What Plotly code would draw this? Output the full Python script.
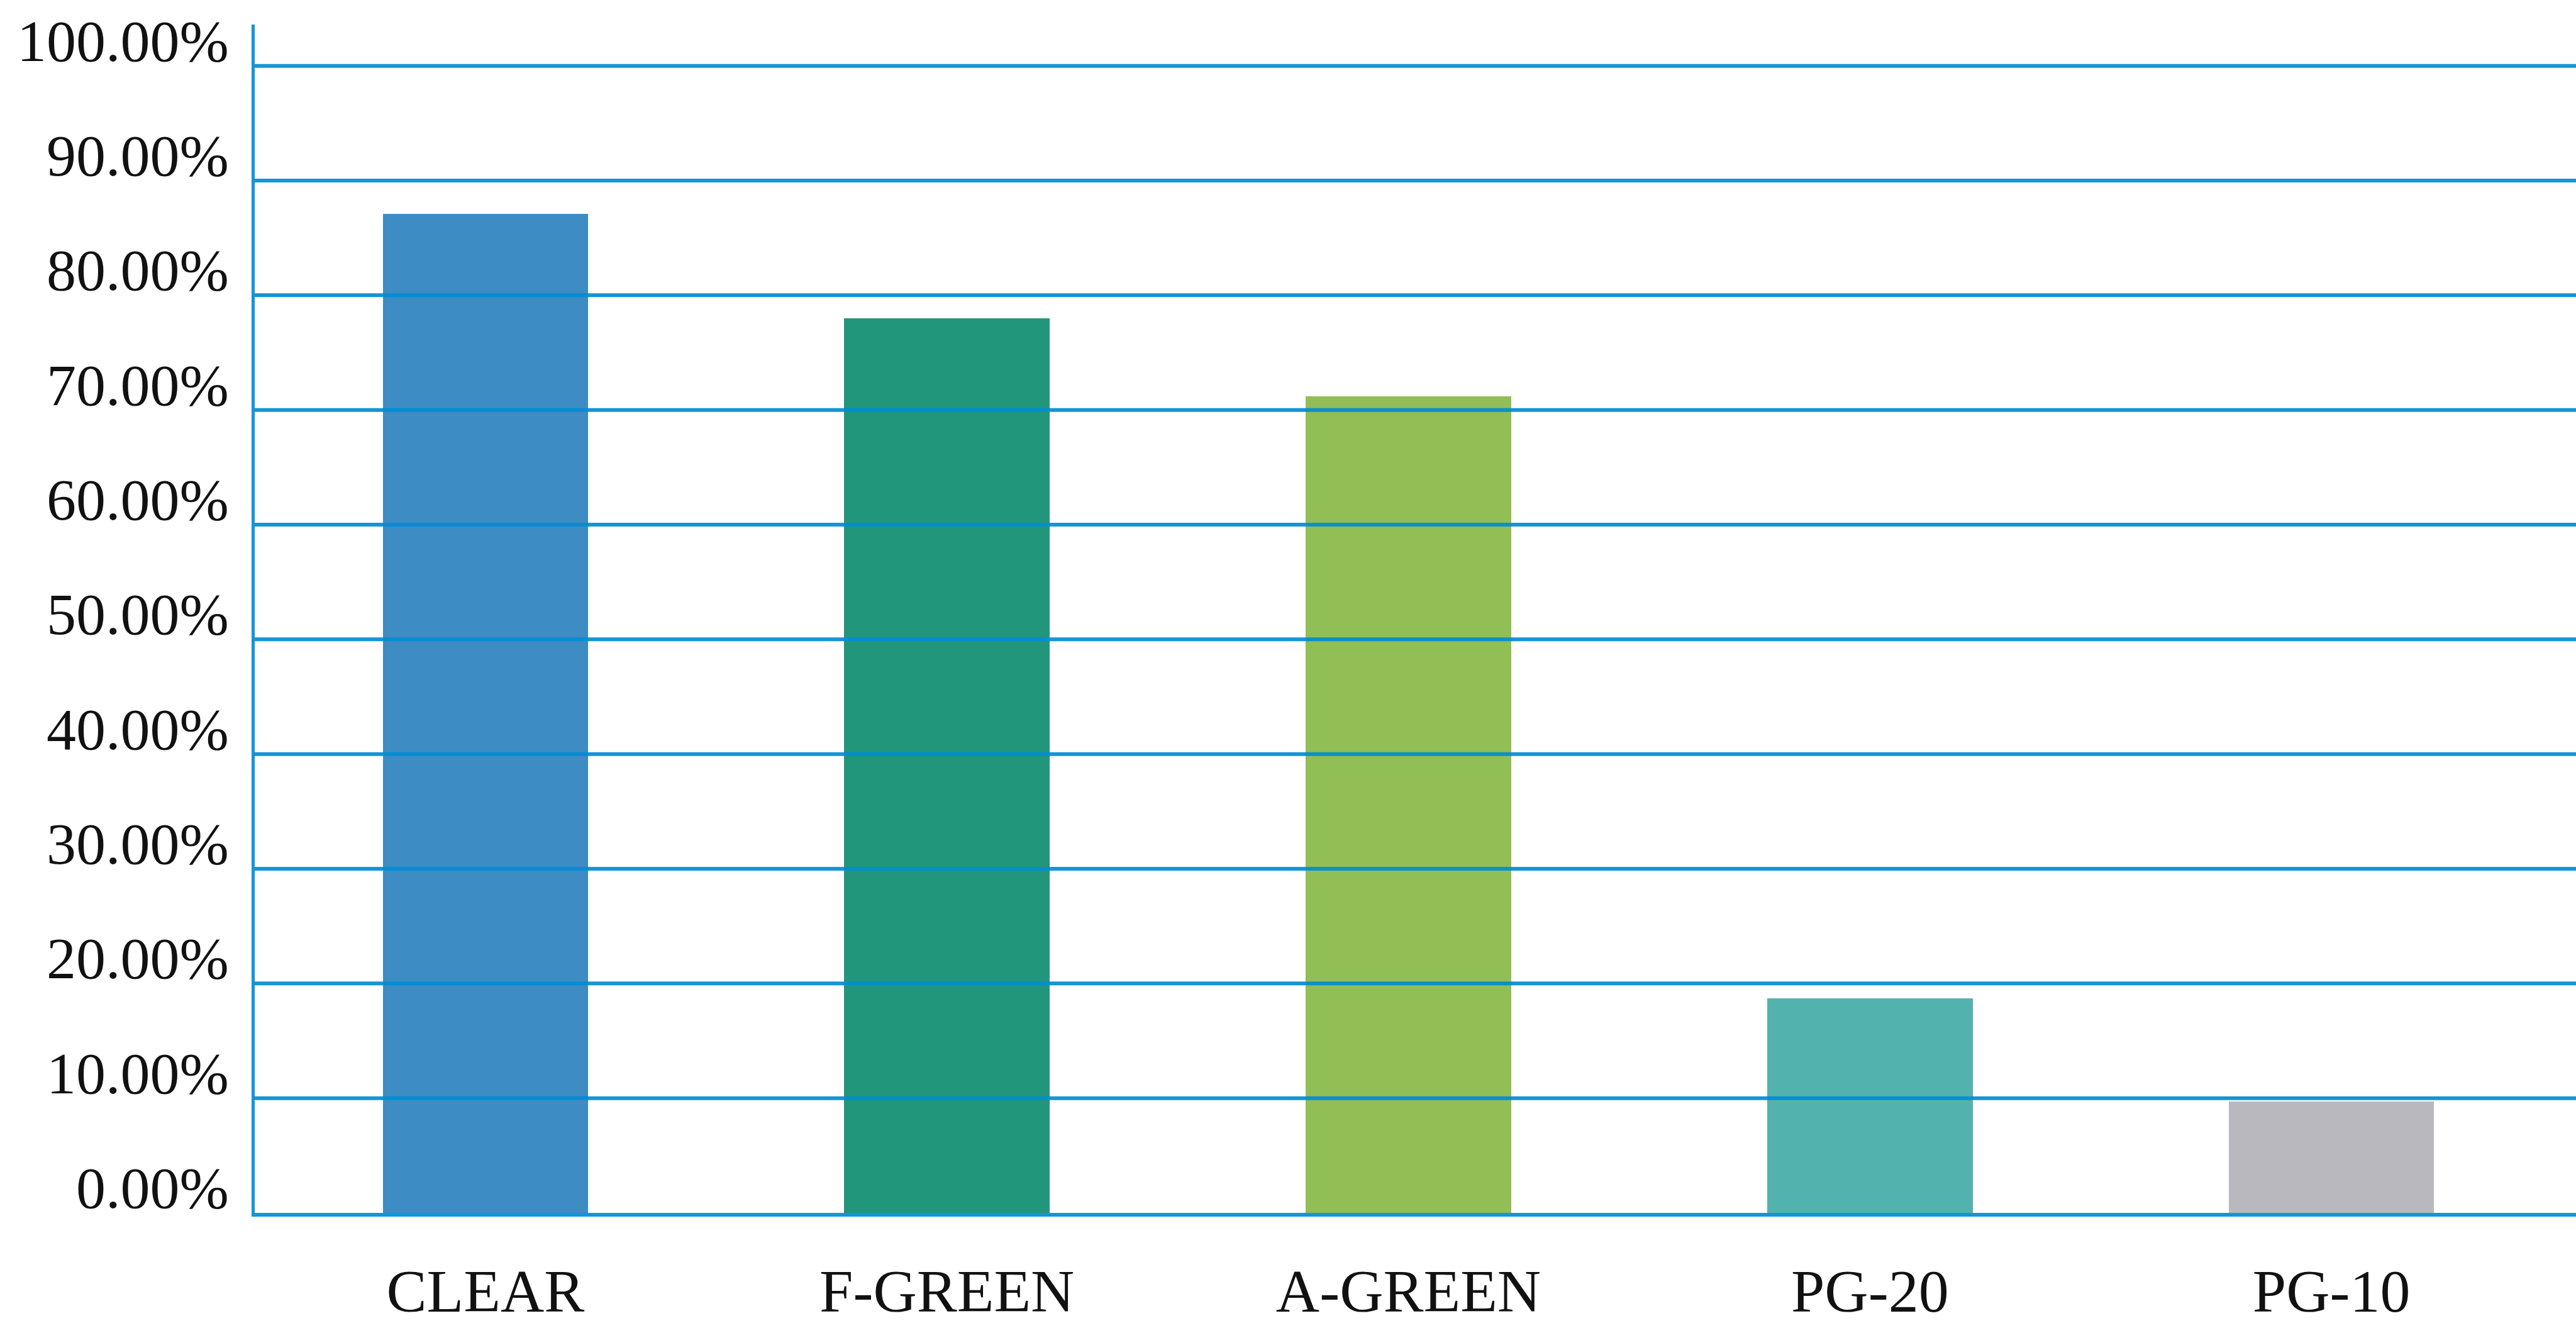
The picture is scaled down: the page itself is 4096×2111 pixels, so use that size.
import plotly.graph_objects as go

# Bar chart data
categories = ["CLEAR", "F-GREEN", "A-GREEN", "PG-20", "PG-10"]
values = [87.1, 78.0, 71.2, 18.7, 9.7]
bar_colors = ["#3d8cc3", "#21967b", "#91be55", "#52b3ae", "#b8b8be"]
y_ticks = [0, 10, 20, 30, 40, 50, 60, 70, 80, 90, 100]

GRID_COLOR = "rgba(0,140,212,0.92)"
FONT = "Liberation Serif"

fig = go.Figure()
fig.add_trace(go.Bar(
    x=categories,
    y=values,
    marker=dict(color=bar_colors, line=dict(width=0)),
    width=0.445,
    hoverinfo="x+y",
))

# Horizontal rules drawn over the bars (the baseline comes from the x axis line)
for v in y_ticks[1:]:
    fig.add_shape(
        type="line", xref="paper", yref="y",
        x0=0, x1=1, y0=v, y1=v,
        line=dict(color=GRID_COLOR, width=6),
        layer="above",
    )

# Percentage labels sit slightly above each rule
for v in y_ticks:
    fig.add_annotation(
        x=0, xref="paper", y=v, yref="y",
        text=f"{v:.2f}%",
        showarrow=False,
        xanchor="right", yanchor="middle",
        xshift=-39, yshift=40,
        font=dict(family=FONT, size=94, color="#111111"),
    )

fig.update_layout(
    width=4096, height=2111,
    margin=dict(l=405, r=0, t=39, b=183),
    paper_bgcolor="white",
    plot_bgcolor="white",
    showlegend=False,
    bargap=0,
)

fig.update_xaxes(
    range=[-0.5, 4.53],
    automargin=False,
    showgrid=False,
    showline=True,
    linecolor=GRID_COLOR,
    linewidth=6,
    zeroline=False,
    ticks="",
    ticklabelstandoff=36,
    tickfont=dict(family=FONT, size=96, color="#111111"),
)

fig.update_yaxes(
    range=[0, 103.6],
    automargin=False,
    showgrid=False,
    zeroline=False,
    showline=True,
    linecolor=GRID_COLOR,
    linewidth=5,
    showticklabels=False,
    ticks="",
)

fig.write_html("out.html")
